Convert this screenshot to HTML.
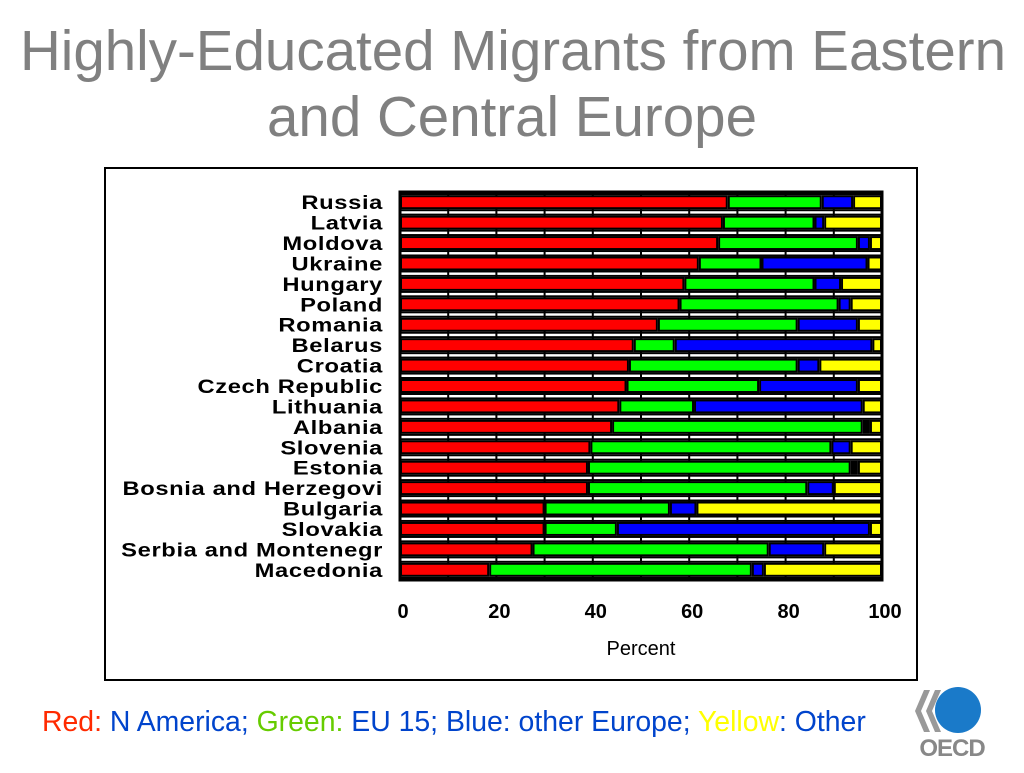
<!DOCTYPE html>
<html><head><meta charset="utf-8"><style>
body{margin:0;width:1024px;height:768px;background:#fff;overflow:hidden;font-family:"Liberation Sans",sans-serif;}
</style></head><body>
<svg width="1024" height="768" viewBox="0 0 1024 768" xmlns="http://www.w3.org/2000/svg">
<text x="513" y="70" text-anchor="middle" font-size="56.5" fill="#808080">Highly-Educated Migrants from Eastern</text>
<text x="512" y="136" text-anchor="middle" font-size="56.5" fill="#808080">and Central Europe</text>
<rect x="105" y="168" width="812" height="512" fill="#fff" stroke="#000" stroke-width="2"/>
<g id="plot"></g>
<text x="641" y="655" text-anchor="middle" font-size="20">Percent</text>
<text x="42" y="731" font-size="28.4"><tspan fill="#ff2a00">Red:</tspan><tspan fill="#0044cc"> N America; </tspan><tspan fill="#66cc00">Green:</tspan><tspan fill="#0044cc"> EU 15; Blue: other Europe; </tspan><tspan fill="#ffff00">Yellow</tspan><tspan fill="#0044cc">: Other</tspan></text>
<g>
<path d="M924 690 l-9 21 l9 21 h6 l-9 -21 l9 -21z M935 690 l-9 21 l9 21 h6 l-9 -21 l9 -21z" fill="#999"/>
<circle cx="958" cy="710" r="23" fill="#1a7ac9"/>
<text x="952" y="756" text-anchor="middle" font-size="24" font-weight="bold" fill="#888" letter-spacing="-1">OECD</text>
</g>
</svg>
<script>
const countries=["Russia","Latvia","Moldova","Ukraine","Hungary","Poland","Romania","Belarus","Croatia","Czech Republic","Lithuania","Albania","Slovenia","Estonia","Bosnia and Herzegovi","Bulgaria","Slovakia","Serbia and Montenegr","Macedonia"];
const naValues=[68,67,66,62,59,58,53.5,48.5,47.5,47,45.5,44,39.5,39,39,30,30,27.5,18.5];
const eu15Values=[19.5,19,29,13,27,33,29,8.5,35,27.5,15.5,52,50,54.5,45.5,26,15,49,54.5];
const otherEuropeValues=[6.5,2,2.5,22,5.5,2.5,12.5,41,4.5,20.5,35,1.5,4,1.5,5.5,5.5,52.5,11.5,2.5];
const otherValues=[6,12,2.5,3,8.5,6.5,5,2,13,5,4,2.5,6.5,5,10,38.5,2.5,12,24.5];
const xTicks=[0,20,40,60,80,100];
const NS="http://www.w3.org/2000/svg";
const g=document.getElementById('plot');
const X0=400,X1=882,Y0=192,Y1=580;
const xs=v=>X0+(X1-X0)*v/100;
const pitch=(Y1-Y0)/countries.length;
const yc=i=>Y0+pitch*(i+0.5);
function mk(t,a){const e=document.createElementNS(NS,t);for(const k in a)e.setAttribute(k,a[k]);g.appendChild(e);return e;}
for(let v=10;v<100;v+=10){const l=mk('line',{x1:xs(v),x2:xs(v),y1:Y0,y2:Y1,stroke:'#000','stroke-width':2});

}
const series=[naValues,eu15Values,otherEuropeValues,otherValues];
const colors=['#ff0000','#00ff00','#0000ff','#ffff00'];
const names=['n-america','eu15','other-europe','other'];
countries.forEach((c,i)=>{
  let acc=0;
  const sep=mk('rect',{x:X0,y:yc(i)+7,width:X1-X0,height:2,fill:'#000'});
  
  
  const sep2=mk('rect',{x:X0,y:yc(i)-9,width:X1-X0,height:2,fill:'#000'});
  
  
  series.forEach((s,k)=>{
    const w=s[i];
    const r=mk('rect',{x:xs(acc)+1,y:yc(i)-6,width:Math.max(0.5,xs(acc+w)-xs(acc)-2),height:12,fill:w<2&&k==2?'#000':colors[k],stroke:'#000','stroke-width':2});
    
    
    acc+=w;
  });
  const t=mk('text',{x:0,y:0,'text-anchor':'end','font-size':19,'font-weight':'bold','letter-spacing':'0.5',transform:'translate(383,'+(yc(i)+7)+') scale(1.25,1)'});
  t.textContent=c;
  
  
});
const fr=mk('rect',{x:X0,y:Y0,width:X1-X0,height:Y1-Y0,fill:'none',stroke:'#000','stroke-width':3});


xTicks.forEach(v=>{const t=mk('text',{x:xs(v)+3,y:618,'text-anchor':'middle','font-size':20,'font-weight':'bold'});
t.textContent=v;

});
</script>
</body></html>
